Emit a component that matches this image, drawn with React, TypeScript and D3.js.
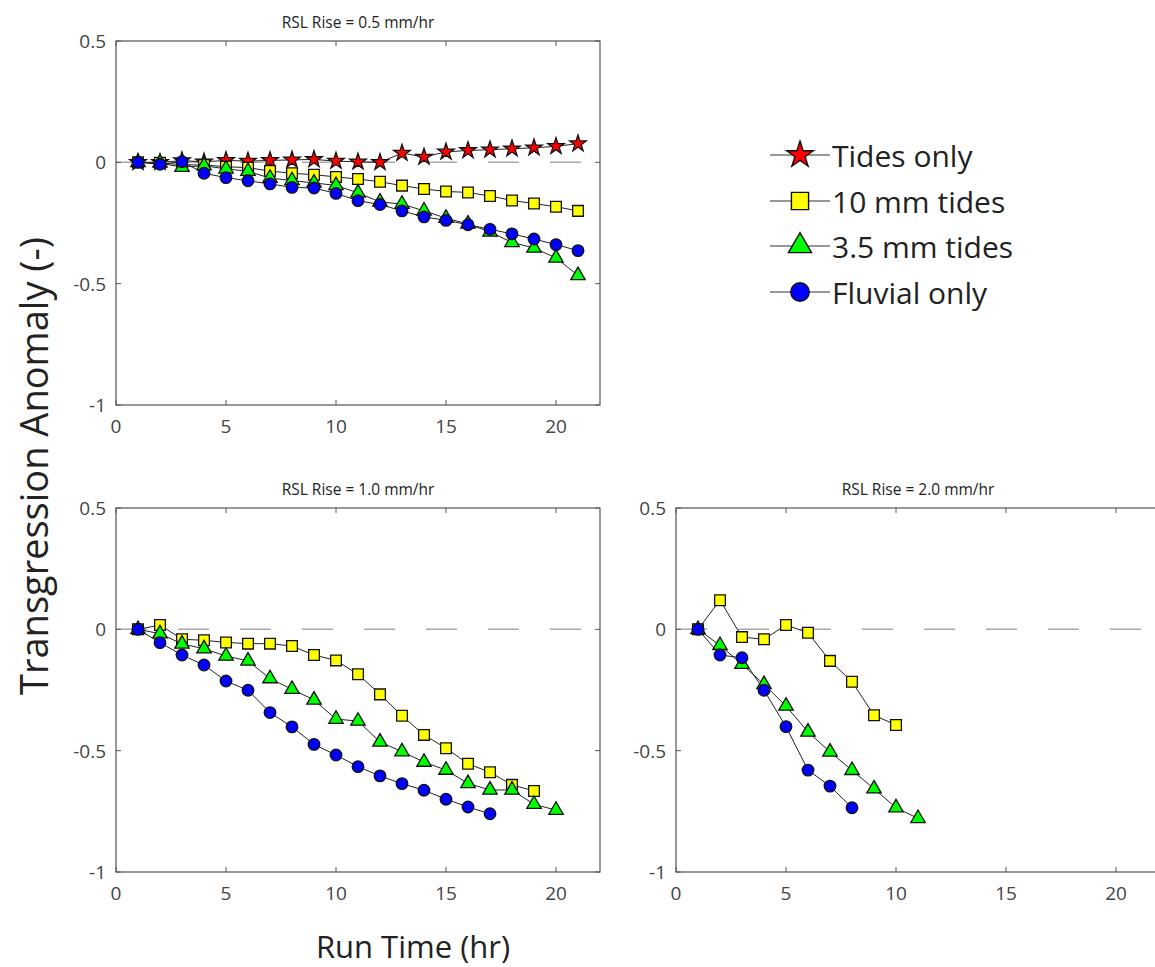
import React, { useEffect, useRef } from 'react';
import * as d3 from 'd3';

const W = 1155;
const H = 967;

const panelTitles = ['RSL Rise = 0.5 mm/hr', 'RSL Rise = 1.0 mm/hr', 'RSL Rise = 2.0 mm/hr'];
const xTicks = [0, 5, 10, 15, 20];
const yTicks = [0.5, 0, -0.5, -1];
const yTickLabels = ['0.5', '0', '-0.5', '-1'];
const seriesNames = ['Tides only', '10 mm tides', '3.5 mm tides', 'Fluvial only'];
const seriesColors = ['#ff0000', '#ffff00', '#00ff00', '#0000ff'];
const seriesShapes = ['star', 'square', 'triangle', 'circle'];
const xLabel = 'Run Time (hr)';
const yLabel = 'Transgression Anomaly (-)';

// RSL rise = 0.5 mm/hr (runs 1..21)
const tidesOnly05 = [0, 0, 0.007, 0.002, 0.008, 0.005, 0.008, 0.01, 0.012, 0.005, 0.002, 0, 0.038, 0.022, 0.043, 0.049, 0.052, 0.056, 0.06, 0.066, 0.077];
const tides10mm05 = [0, -0.002, -0.01, -0.011, -0.018, -0.022, -0.036, -0.045, -0.051, -0.06, -0.069, -0.08, -0.096, -0.11, -0.12, -0.124, -0.139, -0.157, -0.17, -0.183, -0.2];
const tides35mm05 = [0, -0.003, -0.02, -0.014, -0.027, -0.037, -0.065, -0.075, -0.085, -0.095, -0.126, -0.163, -0.172, -0.2, -0.23, -0.254, -0.287, -0.33, -0.353, -0.394, -0.466];
const fluvial05 = [0, -0.008, 0.003, -0.045, -0.063, -0.076, -0.089, -0.103, -0.106, -0.128, -0.158, -0.174, -0.2, -0.225, -0.239, -0.257, -0.276, -0.295, -0.316, -0.339, -0.364];

// RSL rise = 1.0 mm/hr
const tides10mm10 = [0, 0.018, -0.041, -0.045, -0.054, -0.059, -0.059, -0.069, -0.106, -0.128, -0.185, -0.268, -0.356, -0.435, -0.49, -0.554, -0.589, -0.641, -0.666];
const tides35mm10 = [0, -0.018, -0.06, -0.08, -0.11, -0.13, -0.203, -0.247, -0.291, -0.37, -0.378, -0.464, -0.504, -0.547, -0.58, -0.635, -0.662, -0.662, -0.721, -0.745];
const fluvial10 = [0, -0.055, -0.106, -0.147, -0.213, -0.251, -0.343, -0.402, -0.474, -0.518, -0.566, -0.604, -0.636, -0.663, -0.7, -0.732, -0.76];

// RSL rise = 2.0 mm/hr
const tides10mm20 = [0, 0.12, -0.032, -0.041, 0.018, -0.014, -0.13, -0.216, -0.354, -0.394];
const tides35mm20 = [0, -0.066, -0.144, -0.227, -0.316, -0.423, -0.505, -0.581, -0.657, -0.735, -0.779];
const fluvial20 = [0, -0.106, -0.117, -0.251, -0.401, -0.58, -0.646, -0.735];

const FONT = '"Open Sans", "Noto Sans", sans-serif';

function symbolPath(shape: string, scale: number) {
  const type =
    shape === 'star' ? d3.symbolStar :
    shape === 'square' ? d3.symbolSquare :
    shape === 'triangle' ? d3.symbolTriangle : d3.symbolCircle;
  const base = shape === 'star' ? 85 : shape === 'square' ? 115 : shape === 'triangle' ? 90 : 105;
  return d3.symbol().type(type).size(base * scale * scale)();
}

export default function App() {
  const ref = useRef<SVGSVGElement>(null);

  useEffect(() => {
    document.body.style.margin = '0';
    const svg = d3.select(ref.current);
    svg.selectAll('*').remove();
    svg.append('rect').attr('width', W).attr('height', H).attr('fill', '#fff');

    const panels = [
      { left: 116, top: 41, series: [tidesOnly05, tides10mm05, tides35mm05, fluvial05] },
      { left: 116, top: 508, series: [null, tides10mm10, tides35mm10, fluvial10] },
      { left: 676, top: 508, series: [null, tides10mm20, tides35mm20, fluvial20] },
    ];
    const pw = 484;
    const ph = 364;
    const axisColor = '#555';
    const tickColor = '#444';

    panels.forEach((p, pi) => {
      const x = d3.scaleLinear().domain([0, 22]).range([p.left, p.left + pw]);
      const y = d3.scaleLinear().domain([-1, 0.5]).range([p.top + ph, p.top]);
      const g = svg.append('g');

      g.append('line')
        .attr('x1', x(0)).attr('x2', x(22))
        .attr('y1', y(0)).attr('y2', y(0))
        .attr('stroke', '#a8a8a8').attr('stroke-width', 1.5)
        .attr('stroke-dasharray', '31,31');

      g.append('rect')
        .attr('x', x(0)).attr('y', y(0.5))
        .attr('width', pw).attr('height', ph)
        .attr('fill', 'none').attr('stroke', axisColor).attr('stroke-width', 1.2);

      xTicks.forEach((t) => {
        g.append('line').attr('x1', x(t)).attr('x2', x(t))
          .attr('y1', y(-1)).attr('y2', y(-1) - 5).attr('stroke', axisColor);
        g.append('line').attr('x1', x(t)).attr('x2', x(t))
          .attr('y1', y(0.5)).attr('y2', y(0.5) + 5).attr('stroke', axisColor);
        g.append('text').attr('x', x(t)).attr('y', y(-1) + 21)
          .attr('text-anchor', 'middle').attr('dominant-baseline', 'central')
          .attr('font-family', FONT).attr('font-size', 19).attr('fill', tickColor)
          .text(String(t));
      });
      yTicks.forEach((t, i) => {
        g.append('line').attr('x1', x(0)).attr('x2', x(0) + 5)
          .attr('y1', y(t)).attr('y2', y(t)).attr('stroke', axisColor);
        g.append('line').attr('x1', x(22)).attr('x2', x(22) - 5)
          .attr('y1', y(t)).attr('y2', y(t)).attr('stroke', axisColor);
        g.append('text').attr('x', x(0) - 10).attr('y', y(t))
          .attr('text-anchor', 'end').attr('dominant-baseline', 'central')
          .attr('font-family', FONT).attr('font-size', 19).attr('fill', tickColor)
          .text(yTickLabels[i]);
      });

      g.append('text').attr('x', p.left + pw / 2).attr('y', p.top - 13)
        .attr('text-anchor', 'middle')
        .attr('font-family', FONT).attr('font-size', 15.5).attr('fill', '#222')
        .text(panelTitles[pi]);

      p.series.forEach((vals, si) => {
        if (!vals) return;
        const pts = vals.map((v, i) => [x(i + 1), y(v)] as [number, number]);
        g.append('path')
          .attr('d', d3.line()(pts))
          .attr('fill', 'none').attr('stroke', '#222').attr('stroke-width', 1);
        const path = symbolPath(seriesShapes[si], 1);
        g.selectAll(null).data(pts).enter().append('path')
          .attr('d', path)
          .attr('transform', (d) => `translate(${d[0]},${d[1]})`)
          .attr('fill', seriesColors[si])
          .attr('stroke', '#111').attr('stroke-width', 1.3);
      });
    });

    const legY = [155, 201, 246, 292];
    seriesNames.forEach((name, i) => {
      const lg = svg.append('g');
      lg.append('line').attr('x1', 770).attr('x2', 830)
        .attr('y1', legY[i]).attr('y2', legY[i])
        .attr('stroke', '#333').attr('stroke-width', 1);
      lg.append('path').attr('d', symbolPath(seriesShapes[i], 1.6))
        .attr('transform', `translate(800,${legY[i]})`)
        .attr('fill', seriesColors[i]).attr('stroke', '#111').attr('stroke-width', 1.4);
      lg.append('text').attr('x', 832).attr('y', legY[i])
        .attr('dominant-baseline', 'central')
        .attr('font-family', FONT).attr('font-size', 30).attr('fill', '#222')
        .text(name);
    });

    svg.append('text')
      .attr('transform', `translate(33,466) rotate(-90)`)
      .attr('text-anchor', 'middle').attr('dominant-baseline', 'central')
      .attr('font-family', FONT).attr('font-size', 38).attr('fill', '#222')
      .text(yLabel);
    svg.append('text')
      .attr('x', 413).attr('y', 946)
      .attr('text-anchor', 'middle').attr('dominant-baseline', 'central')
      .attr('font-family', FONT).attr('font-size', 31).attr('fill', '#222')
      .text(xLabel);
  }, []);

  return <svg ref={ref} width={W} height={H} style={{ display: 'block' }} />;
}
